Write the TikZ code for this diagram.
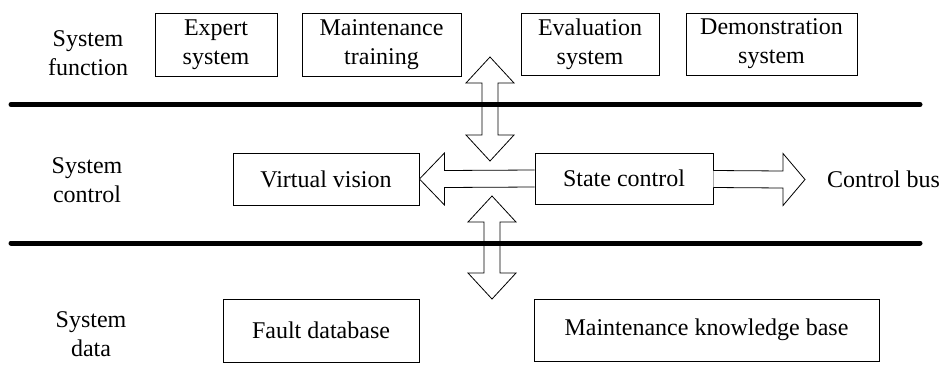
\documentclass[tikz,border=0pt]{standalone}
\usepackage{fontspec}
\setmainfont{Liberation Serif}
\usetikzlibrary{calc}
\tikzset{
  box/.style={draw, line width=0.9pt, inner sep=0pt, align=center, font=\fontsize{24}{29}\selectfont},
  lbl/.style={inner sep=0pt, align=center, font=\fontsize{24}{29}\selectfont},
  barline/.style={line width=5pt, line cap=round},
  blockarrow/.style={draw, line width=0.8pt, fill=white, line join=miter},
}
\newcommand{\vdarrow}[2]{%
  \draw[blockarrow] (#1) -- ($(#1)+(24,26)$) -- ($(#1)+(8,26)$) -- ($(#2)+(8,-26)$) -- ($(#2)+(24,-26)$) -- (#2)
    -- ($(#2)+(-24,-26)$) -- ($(#2)+(-8,-26)$) -- ($(#1)+(-8,26)$) -- ($(#1)+(-24,26)$) -- cycle;}
\begin{document}
\begin{tikzpicture}[x=1pt,y=-1pt]
\useasboundingbox (0,0) rectangle (941,383);
% labels
\node[lbl] (lf) at (88,53) {System\\function};
\node[lbl] (lc) at (87,180) {System\\control};
\node[lbl] (ld) at (91,334) {System\\data};
% top boxes
\node[box, minimum width=122pt, minimum height=63pt] (expert) at (216,44.5) {Expert\\system};
\node[box, minimum width=159pt, minimum height=63pt] (maint) at (381.5,44.5) {Maintenance\\training};
\node[box, minimum width=138pt, minimum height=62pt] (eval) at (590,44) {Evaluation\\system};
\node[box, minimum width=171pt, minimum height=62pt] (demo) at (771.5,44) {Demonstration\\system};
% middle boxes
\node[box, minimum width=186pt, minimum height=52pt] (vv) at (326,179) {Virtual vision};
\node[box, minimum width=178pt, minimum height=51pt] (sc) at (624,178.5) {State control};
\node[lbl, anchor=west] (bus) at (827,179) {Control bus};
% bottom boxes
\node[box, minimum width=196pt, minimum height=63pt] (fault) at (321,330.5) {Fault database};
\node[box, minimum width=345pt, minimum height=62pt] (mkb) at (706.5,330) {Maintenance knowledge base};
% coordinates
\coordinate (t1) at (490,57);
\coordinate (t2) at (490,161);
\coordinate (b1) at (492,196);
\coordinate (b2) at (492,299);
\coordinate (bustip) at ($(bus.west)+(-22,0.5)$);
\coordinate (la) at (11,104.5);
\coordinate (lb) at (920,104.5);
\coordinate (lc1) at (11,243);
\coordinate (lc2) at (920,243);
% vertical double arrows
\vdarrow{t1}{t2}
\vdarrow{b1}{b2}
% left arrow: state control -> virtual vision
\draw[blockarrow] ($(sc.west)+(0,-8.5)$) -- ($(vv.east)+(25,-8.5)$) -- ($(vv.east)+(25,-26)$) -- (vv.east)
  -- ($(vv.east)+(25,26)$) -- ($(vv.east)+(25,8.5)$) -- ($(sc.west)+(0,8.5)$);
% right arrow: state control -> control bus
\draw[blockarrow] ($(sc.east)+(0,-8)$) -- ($(bustip)+(-22,-8.5)$) -- ($(bustip)+(-22,-26)$) -- (bustip)
  -- ($(bustip)+(-22,26)$) -- ($(bustip)+(-22,8.5)$) -- ($(sc.east)+(0,9)$);
% separating bars
\draw[barline] (la) -- (lb);
\draw[barline] (lc1) -- (lc2);
\end{tikzpicture}
\end{document}
